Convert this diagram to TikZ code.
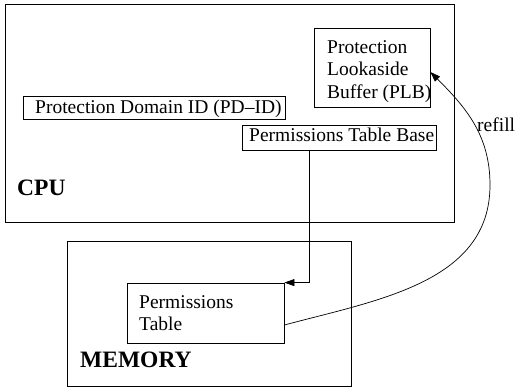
\documentclass[tikz,border=0pt]{standalone}
\usepackage{fontspec}
\setmainfont{Liberation Serif}
\usetikzlibrary{arrows.meta}
\begin{document}
\begin{tikzpicture}[x=1pt,y=1pt,
  frame/.style={draw=black, line width=0.8pt, inner sep=0pt},
  txt/.style={inner sep=0pt, anchor=base west, align=left,
    font=\fontsize{19.5}{22.8}\selectfont},
  title/.style={inner sep=0pt, anchor=base west,
    font=\fontsize{23.5}{28}\selectfont\bfseries},
  link/.style={draw=black, line width=0.7pt},
  tip/.style={-{Triangle[length=10pt,width=7pt]}}]
\useasboundingbox (0,0) rectangle (516,388);

% CPU and its registers (multi-line texts sit on their last baseline)
\node[frame, minimum width=449, minimum height=218] (cpu) at (229.5,275) {};
\node[title] (cpulabel) at (17,192) {CPU};
\node[frame, minimum width=116, minimum height=79] (plb) at (372,320.5) {};
\node[txt] (plbtext) at (327,289.2) {Protection\\Lookaside\\Buffer (PLB)};
\node[frame, minimum width=262, minimum height=23] (pdid) at (154,280.5) {};
\node[txt] (pdidtext) at (35,274.7) {Protection Domain ID (PD--ID)};
\node[frame, minimum width=194, minimum height=25] (ptb) at (339,250.5) {};
\node[txt] (ptbtext) at (249,246) {Permissions Table Base};

% Memory and the permissions table
\node[frame, minimum width=284, minimum height=145] (mem) at (209,74.5) {};
\node[title] (memlabel) at (80,21) {MEMORY};
\node[frame, minimum width=157, minimum height=60] (ptab) at (205.5,75) {};
\node[txt] (ptabtext) at (139,57.2) {Permissions\\Table};

% base register points at the table
\draw[link, tip] ([xshift=-30pt]ptb.south) |- (ptab.north east);

% table refills the lookaside buffer
\coordinate (bend) at (490,203);
\draw[link, tip] ([yshift=-12pt]ptab.east) to[out=15,in=-90] (bend)
  to[out=90,in=-45] ([yshift=-4.5pt]plb.east);
\node[txt] (refill) at (477,256) {refill};
\end{tikzpicture}
\end{document}
